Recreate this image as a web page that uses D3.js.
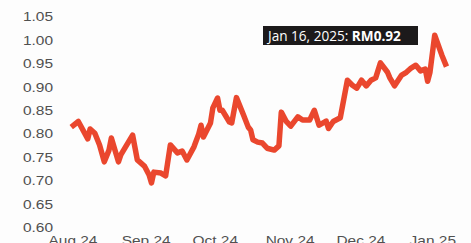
<!DOCTYPE html>
<html><head><meta charset="utf-8">
<script src="https://cdn.jsdelivr.net/npm/d3@7"></script>
<style>
html,body{margin:0;padding:0;background:#fdfdfd;}
svg{display:block;}
</style></head>
<body>
<svg id="c" width="471" height="243"></svg>
<script>
const dates = ["2024-08-10","2024-08-13","2024-08-17","2024-08-18","2024-08-20","2024-08-22","2024-08-24","2024-08-26","2024-08-27","2024-08-30","2024-08-31",
"2024-09-05","2024-09-07","2024-09-10","2024-09-12","2024-09-13","2024-09-14","2024-09-17","2024-09-19","2024-09-21","2024-09-24","2024-09-26","2024-09-28",
"2024-10-01","2024-10-03","2024-10-04","2024-10-05","2024-10-08","2024-10-09","2024-10-11","2024-10-12","2024-10-13","2024-10-16","2024-10-17","2024-10-19","2024-10-22","2024-10-24","2024-10-25","2024-10-26","2024-10-28","2024-10-30",
"2024-11-01","2024-11-04","2024-11-06","2024-11-07","2024-11-09","2024-11-11","2024-11-14","2024-11-16","2024-11-19","2024-11-21","2024-11-23","2024-11-26","2024-11-27","2024-11-29",
"2024-12-02","2024-12-05","2024-12-07","2024-12-09","2024-12-11","2024-12-13","2024-12-15","2024-12-17","2024-12-19","2024-12-22","2024-12-23","2024-12-25","2024-12-28","2024-12-30",
"2025-01-01","2025-01-03","2025-01-05","2025-01-07","2025-01-08","2025-01-09","2025-01-11","2025-01-14","2025-01-16"];
const prices = [0.813,0.825,0.788,0.809,0.800,0.775,0.739,0.764,0.790,0.739,0.754,
0.796,0.743,0.730,0.711,0.694,0.717,0.715,0.709,0.775,0.758,0.762,0.743,
0.771,0.798,0.817,0.792,0.822,0.854,0.875,0.849,0.849,0.824,0.822,0.876,0.839,0.813,0.807,0.786,0.781,0.779,
0.768,0.764,0.773,0.845,0.826,0.815,0.835,0.828,0.828,0.849,0.817,0.826,0.810,0.825,
0.833,0.913,0.903,0.896,0.913,0.901,0.913,0.918,0.950,0.930,0.918,0.901,0.924,0.930,
0.939,0.945,0.933,0.937,0.911,0.930,1.009,0.967,0.942];
const yTicks = [0.60,0.65,0.70,0.75,0.80,0.85,0.90,0.95,1.00,1.05];
const tooltipDate = "Jan 16, 2025: ";
const tooltipValue = "RM0.92";

const parse = d3.timeParse("%Y-%m-%d");
const data = dates.map((d,i)=>({date:parse(d), v:prices[i]}));

const svg = d3.select("#c");
const x = d3.scaleTime().domain([parse("2024-08-01"), parse("2025-01-16")]).range([50, 446.5]);
const y = d3.scaleLinear().domain([0.60, 1.05]).range([227, 16]);
const SX = 1.19;

// y axis
const ya = svg.append("g").attr("transform","translate(53,0)")
  .call(d3.axisLeft(y).tickValues(yTicks).tickFormat(d3.format(".2f")).tickSize(0).tickPadding(0));
ya.select(".domain").remove();
ya.selectAll("text").attr("x",0).attr("dy","0.36em")
  .attr("transform",`scale(${SX},1)`)
  .style("font-family","'Liberation Sans', Arial, sans-serif").style("font-size","13px").style("fill","#505050");

// x axis
const xa = svg.append("g").attr("transform","translate(0,236)")
  .call(d3.axisBottom(x).ticks(d3.timeMonth.every(1)).tickFormat(d3.timeFormat("%b %y")).tickSize(0).tickPadding(0));
xa.select(".domain").remove();
xa.selectAll("text").attr("x",0).attr("y",0).attr("dy","0.71em")
  .attr("text-anchor","start")
  .attr("transform",`translate(-2,0) scale(${SX},1)`)
  .style("font-family","'Liberation Sans', Arial, sans-serif").style("font-size","13px").style("fill","#505050");

// line
svg.append("path").datum(data)
  .attr("d", d3.line().x(d=>x(d.date)).y(d=>y(d.v)))
  .attr("fill","none").attr("stroke","#ea472e").attr("stroke-width",5.5)
  .attr("stroke-linejoin","round").attr("stroke-linecap","butt");

// tooltip
const tip = svg.append("g");
tip.append("rect").attr("x",263).attr("y",26).attr("width",155).attr("height",19).attr("fill","#1c1a1b");
const tt = tip.append("text").attr("x",268).attr("y",41)
  .style("font-family","'Open Sans', sans-serif").style("font-size","13.6px").style("fill","#fff");
tt.append("tspan").text(tooltipDate);
tt.append("tspan").style("font-weight","bold").text(tooltipValue);
</script>
</body></html>
